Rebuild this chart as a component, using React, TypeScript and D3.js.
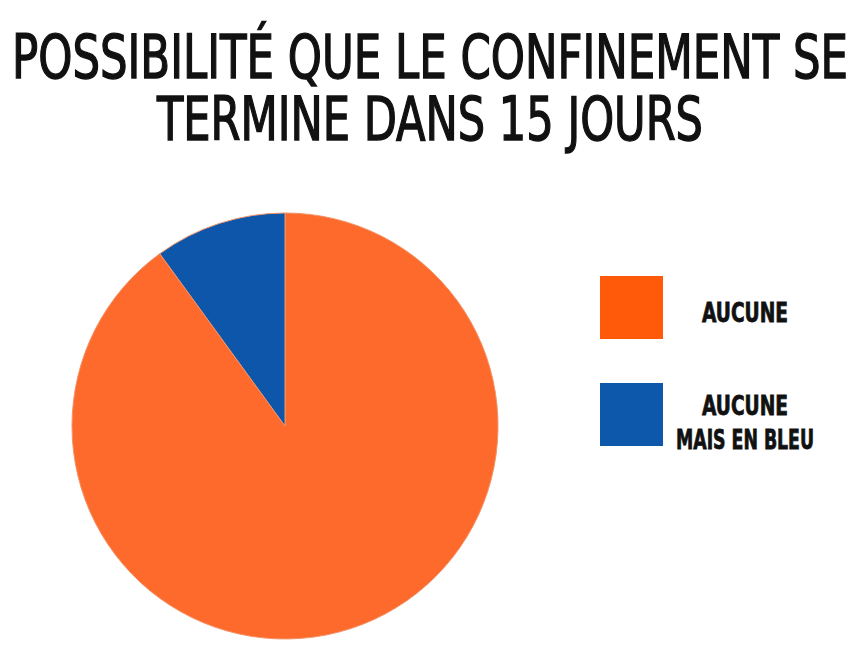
import React, { useEffect, useRef } from 'react';
import * as d3 from 'd3';

const titleLines = ['POSSIBILITÉ QUE LE  CONFINEMENT SE', 'TERMINE DANS 15 JOURS'];
const categories = ['AUCUNE', 'AUCUNE MAIS EN BLEU'];
const values = [90, 10];
const legendLines = [['AUCUNE'], ['AUCUNE', 'MAIS EN BLEU']];
const sliceColors = ['#fd6a2c', '#0e56a9'];
const swatchColors = ['#ff5a0a', '#0d58ab'];

const W = 863;
const H = 670;

const App: React.FC = () => {
  const svgRef = useRef<SVGSVGElement>(null);

  useEffect(() => {
    document.body.style.margin = '0';
    if (!svgRef.current) return;
    const svg = d3.select(svgRef.current);
    svg.selectAll('*').remove();

    svg.append('rect').attr('width', W).attr('height', H).attr('fill', '#fff');

    // title
    const titleWidths = [836, 546];
    const titleCx = 430;
    svg.selectAll('text.title')
      .data(titleLines)
      .enter()
      .append('text')
      .attr('class', 'title')
      .attr('x', (_, i) => titleCx - titleWidths[i] / 2)
      .attr('y', (_, i) => 78 + i * 62)
      .attr('font-family', '"DejaVu Sans Condensed", "Liberation Sans Narrow", sans-serif')
      .attr('font-weight', 'normal')
      .attr('font-size', 61)
      .attr('fill', '#111')
      .attr('stroke', '#111')
      .attr('stroke-width', 1.4)
      .attr('textLength', (_, i) => titleWidths[i])
      .attr('lengthAdjust', 'spacingAndGlyphs')
      .text(d => d);

    // pie
    const radius = 213;
    const cx = 285;
    const cy = 426;
    const pie = d3.pie<number>().sort(null).value(d => d);
    const arc = d3.arc<d3.PieArcDatum<number>>().innerRadius(0).outerRadius(radius);

    svg.append('g')
      .attr('transform', `translate(${cx},${cy})`)
      .selectAll('path')
      .data(pie(values))
      .enter()
      .append('path')
      .attr('d', arc)
      .attr('fill', (_, i) => sliceColors[i])
      .attr('stroke', '#f29368')
      .attr('stroke-width', 1);

    // legend
    const legend = svg.append('g');
    const rows = legend.selectAll('g.item')
      .data(categories)
      .enter()
      .append('g')
      .attr('class', 'item')
      .attr('transform', (_, i) => `translate(600,${276 + i * 107})`);

    rows.append('rect')
      .attr('width', 63)
      .attr('height', 63)
      .attr('fill', (_, i) => swatchColors[i]);

    const lineWidths: Record<string, number> = { 'AUCUNE': 86, 'MAIS EN BLEU': 138 };
    rows.each(function (_, i) {
      const lines = legendLines[i];
      const g = d3.select(this);
      const top = lines.length === 1 ? 46 : 32;
      lines.forEach((line, j) => {
        g.append('text')
          .attr('x', 145 - lineWidths[line] / 2)
          .attr('y', top + j * 34)
          .attr('font-family', '"DejaVu Sans Condensed", "Liberation Sans Narrow", sans-serif')
          .attr('font-weight', 'bold')
          .attr('font-size', 27)
          .attr('fill', '#111')
          .attr('stroke', '#111')
          .attr('stroke-width', 0.8)
          .attr('textLength', lineWidths[line])
          .attr('lengthAdjust', 'spacingAndGlyphs')
          .text(line);
      });
    });
  }, []);

  return <svg ref={svgRef} width={W} height={H} style={{ display: 'block' }}></svg>;
};

export default App;
